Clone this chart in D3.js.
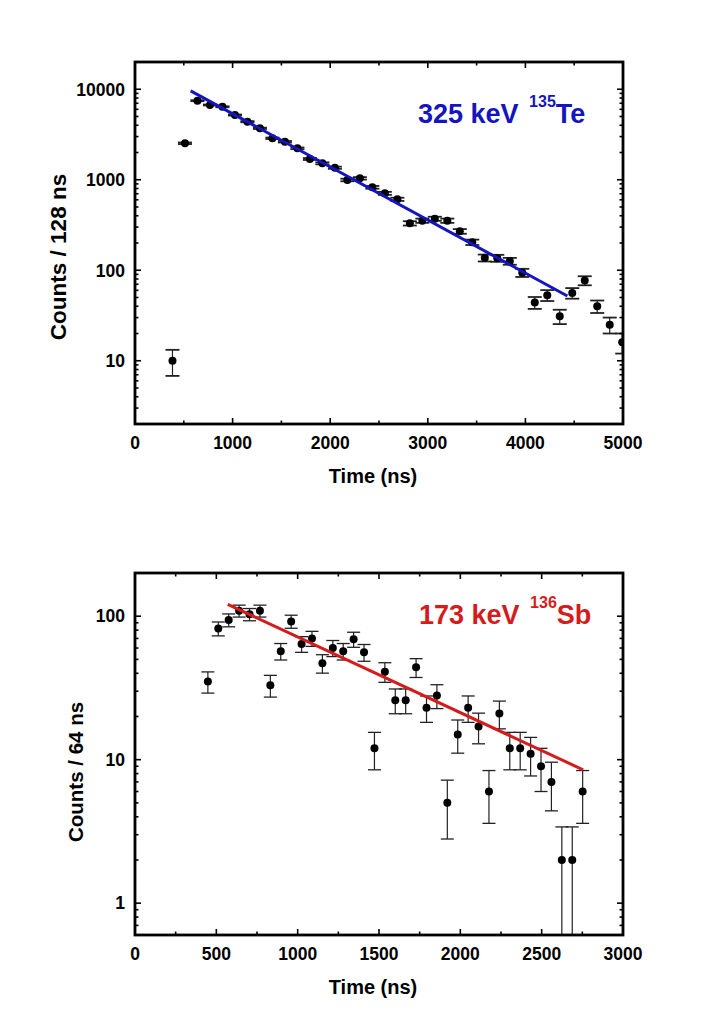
<!DOCTYPE html>
<html>
<head>
<meta charset="utf-8">
<script src="https://cdn.jsdelivr.net/npm/d3@7"></script>
<style>
    body { margin: 0; background: #fff; }
    text { font-family: Arial, "Liberation Sans", sans-serif; font-weight: bold; }
</style>
</head>
<body>
<div id="chart"></div>
<script>
// 325 keV line in 135Te, counts per 128 ns bin
const teTime = [384, 512, 640, 768, 896, 1024, 1152, 1280, 1408, 1536, 1664, 1792, 1920, 2048, 2176, 2304, 2432, 2560, 2688, 2816,
    2944, 3072, 3200, 3328, 3456, 3584, 3712, 3840, 3968, 4096, 4224, 4352, 4480, 4608, 4736, 4864, 4992]
const teCounts = [10, 2530, 7470, 6700, 6400, 5190, 4380, 3700, 2870, 2630, 2225, 1695, 1518, 1358, 994, 1037, 825, 708, 608, 330,
    353, 371, 353, 269, 204, 137, 136, 126, 94, 44, 53, 31, 56, 77, 40, 25, 16]
const teErr = [3.2, 50, 86, 82, 80, 72, 66, 61, 54, 51, 47, 41, 39, 37, 32, 32, 29, 27, 25, 18,
    19, 19, 19, 16, 14, 12, 12, 11, 9.7, 6.6, 7.3, 5.6, 7.5, 8.8, 6.3, 5.0, 4.0]
const teFit = [[570, 9600], [4430, 52]]
const teXTicks = [0, 1000, 2000, 3000, 4000, 5000]
const teYTicks = [10, 100, 1000, 10000]

// 173 keV line in 136Sb, counts per 64 ns bin
const sbTime = [448, 512, 576, 640, 704, 768, 832, 896, 960, 1024, 1088, 1152, 1216, 1280, 1344, 1408, 1472, 1536, 1600, 1664,
    1728, 1792, 1856, 1920, 1984, 2048, 2112, 2176, 2240, 2304, 2368, 2432, 2496, 2560, 2624, 2688, 2752]
const sbCounts = [35, 82, 94, 109, 103, 109, 33, 57, 92, 64, 70, 47, 60, 57, 69, 56, 12, 41, 26, 26,
    44, 23, 28, 5, 15, 23, 17, 6, 21, 12, 12, 11, 9, 7, 2, 2, 6]
const sbErr = [5.9, 9.1, 9.7, 10.4, 10.1, 10.4, 5.7, 7.5, 9.6, 8.0, 8.4, 6.9, 7.7, 7.5, 8.3, 7.5, 3.5, 6.4, 5.1, 5.1,
    6.6, 4.8, 5.3, 2.2, 3.9, 4.8, 4.1, 2.4, 4.6, 3.5, 3.5, 3.3, 3.0, 2.6, 1.4, 1.4, 2.4]
const sbFit = [[570, 121], [2755, 8.5]]
const sbXTicks = [0, 500, 1000, 1500, 2000, 2500, 3000]
const sbYTicks = [1, 10, 100]

const svg = d3.select('#chart').append('svg')
    .attr('width', 710)
    .attr('height', 1014)

function drawPanel(p) {
    const x = d3.scaleLinear().domain(p.xDomain).range([p.left, p.right])
    const y = d3.scaleLog().domain(p.yDomain).range([p.bottom, p.top])
    const g = svg.append('g')

    g.append('clipPath').attr('id', p.id)
        .append('rect')
        .attr('x', p.left).attr('y', p.top)
        .attr('width', p.right - p.left).attr('height', p.bottom - p.top)

    const data = p.time.map((t, i) => ({t: t, v: p.counts[i], e: p.err[i]}))
    const marks = g.append('g').attr('clip-path', `url(#${p.id})`)
    const lo = d => d.v - d.e > 0 ? y(d.v - d.e) : p.bottom + 20

    // error bars
    marks.append('g').selectAll('line')
        .data(data)
        .enter().append('line')
        .attr('x1', d => x(d.t)).attr('x2', d => x(d.t))
        .attr('y1', d => y(d.v + d.e)).attr('y2', lo)
        .attr('stroke', '#222').attr('stroke-width', 1.2)

    const caps = marks.append('g')
    caps.selectAll('.cap-hi').data(data).enter().append('line')
        .attr('x1', d => x(d.t) - p.cap).attr('x2', d => x(d.t) + p.cap)
        .attr('y1', d => y(d.v + d.e)).attr('y2', d => y(d.v + d.e))
        .attr('stroke', '#222').attr('stroke-width', p.capWidth)
    caps.selectAll('.cap-lo').data(data.filter(d => d.v - d.e > 0)).enter().append('line')
        .attr('x1', d => x(d.t) - p.cap).attr('x2', d => x(d.t) + p.cap)
        .attr('y1', lo).attr('y2', lo)
        .attr('stroke', '#222').attr('stroke-width', p.capWidth)

    marks.append('g').selectAll('circle')
        .data(data)
        .enter().append('circle')
        .attr('cx', d => x(d.t))
        .attr('cy', d => y(d.v))
        .attr('r', 4)
        .attr('fill', '#000')

    // fit, straight on log scale
    marks.append('path')
        .datum(p.fit)
        .attr('d', d3.line().x(d => x(d[0])).y(d => y(d[1])))
        .attr('fill', 'none')
        .attr('stroke', p.color)
        .attr('stroke-width', 3)

    // ticks on all four sides, pointing inward
    const ticks = g.append('g').attr('stroke', '#000').attr('stroke-width', 1.6)
    const xAll = d3.range(p.xDomain[0], p.xDomain[1] + 1, p.xMinor)
    xAll.forEach(t => {
        const len = p.xTicks.includes(t) ? 6 : 3.5
        ticks.append('line').attr('x1', x(t)).attr('x2', x(t)).attr('y1', p.bottom).attr('y2', p.bottom - len)
        ticks.append('line').attr('x1', x(t)).attr('x2', x(t)).attr('y1', p.top).attr('y2', p.top + len)
    })
    y.ticks().forEach(v => {
        const len = p.yTicks.includes(v) ? 6 : 3.5
        ticks.append('line').attr('x1', p.left).attr('x2', p.left + len).attr('y1', y(v)).attr('y2', y(v))
        ticks.append('line').attr('x1', p.right).attr('x2', p.right - len).attr('y1', y(v)).attr('y2', y(v))
    })

    g.append('rect')
        .attr('x', p.left).attr('y', p.top)
        .attr('width', p.right - p.left).attr('height', p.bottom - p.top)
        .attr('fill', 'none').attr('stroke', '#000').attr('stroke-width', 2.8)

    g.append('g').selectAll('text')
        .data(p.xTicks)
        .enter().append('text')
        .attr('x', d => x(d))
        .attr('y', p.bottom + 25)
        .attr('text-anchor', 'middle')
        .style('font-size', '17.5px')
        .text(d => d)

    g.append('g').selectAll('text')
        .data(p.yTicks)
        .enter().append('text')
        .attr('x', p.left - 10)
        .attr('y', d => y(d))
        .attr('dy', '0.36em')
        .attr('text-anchor', 'end')
        .style('font-size', '17.5px')
        .text(d => d)

    g.append('text')
        .attr('x', (p.left + p.right) / 2 - 6)
        .attr('y', p.bottom + 59)
        .attr('text-anchor', 'middle')
        .style('font-size', '20px')
        .text('Time (ns)')

    g.append('text')
        .attr('transform', `translate(${p.yTitleX},${p.yTitleY}) rotate(-90)`)
        .attr('text-anchor', 'middle')
        .style('font-size', p.yTitleSize)
        .text(p.yTitle)

    // line label with mass number as superscript
    const lab = g.append('text')
        .attr('x', p.labelX)
        .attr('y', p.labelY)
        .attr('fill', p.color)
        .style('font-size', '27px')
    lab.append('tspan').text(p.label[0] + ' ')
    lab.append('tspan').attr('dx', 3).attr('dy', -16).style('font-size', '16px').text(p.label[1])
    lab.append('tspan').attr('dy', 16).text(p.label[2])
}

drawPanel({
    id: 'clip-te', left: 135, right: 623, top: 62, bottom: 424,
    xDomain: [0, 5000], yDomain: [2, 20000], xMinor: 500,
    xTicks: teXTicks, yTicks: teYTicks,
    time: teTime, counts: teCounts, err: teErr, fit: teFit, cap: 7, capWidth: 1.8,
    color: '#1414c0',
    yTitle: 'Counts / 128 ns', yTitleX: 66, yTitleY: 257, yTitleSize: '22.5px',
    label: ['325 keV', '135', 'Te'], labelX: 418, labelY: 123
})

drawPanel({
    id: 'clip-sb', left: 135, right: 623, top: 573, bottom: 935,
    xDomain: [0, 3000], yDomain: [0.6, 200], xMinor: 250,
    xTicks: sbXTicks, yTicks: sbYTicks,
    time: sbTime, counts: sbCounts, err: sbErr, fit: sbFit, cap: 6.5, capWidth: 1.3,
    color: '#d41c1c',
    yTitle: 'Counts / 64 ns', yTitleX: 83, yTitleY: 772, yTitleSize: '20.5px',
    label: ['173 keV', '136', 'Sb'], labelX: 419, labelY: 624
})
</script>
</body>
</html>
